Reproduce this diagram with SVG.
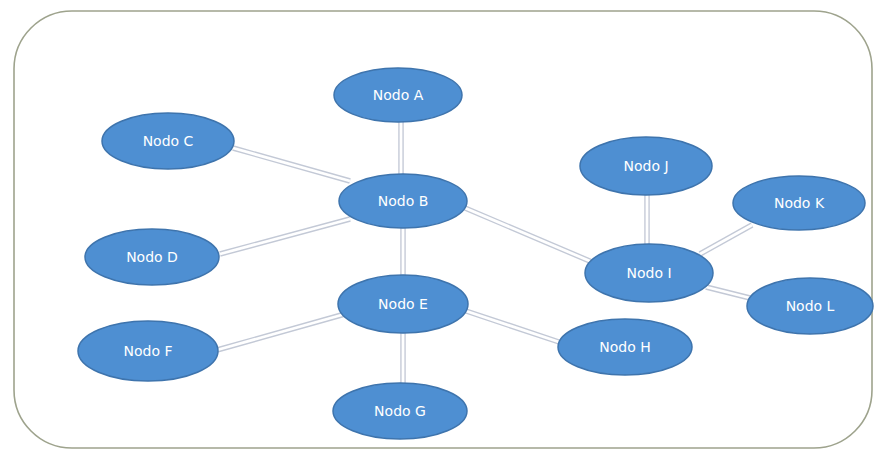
<svg xmlns="http://www.w3.org/2000/svg" width="875" height="450" viewBox="0 0 875 450">
<style>
.n ellipse{fill:#4e8fd2;stroke:#3e74ad;stroke-width:1.5}
.n text{fill:#ffffff;font-family:"DejaVu Sans","Liberation Sans",sans-serif;font-size:14px;text-anchor:middle;dominant-baseline:central}
.e .o{stroke:#c3c9d6;stroke-width:5.5;fill:none}
.e .i{stroke:#ffffff;stroke-width:2.8;fill:none}
</style>
<rect x="0" y="0" width="875" height="450" fill="#ffffff"/>
<rect x="14" y="11" width="858" height="437" rx="58" ry="58" fill="#ffffff" stroke="#9ea38d" stroke-width="1.6"/>
<g id="connectors" class="e">
<g class="o">
<line x1="401" y1="120" x2="401" y2="177"/>
<line x1="233" y1="148" x2="350" y2="181"/>
<line x1="220" y1="254" x2="350" y2="219"/>
<line x1="403" y1="226" x2="403" y2="277"/>
<line x1="465" y1="208" x2="592" y2="262"/>
<line x1="217" y1="350" x2="345" y2="314"/>
<line x1="403" y1="331" x2="403" y2="385"/>
<line x1="466" y1="311" x2="562" y2="343"/>
<line x1="647" y1="193" x2="647" y2="247"/>
<line x1="700" y1="254" x2="752" y2="225"/>
<line x1="706" y1="287" x2="750" y2="298"/>
</g>
<g class="i">
<line x1="401" y1="120" x2="401" y2="177"/>
<line x1="233" y1="148" x2="350" y2="181"/>
<line x1="220" y1="254" x2="350" y2="219"/>
<line x1="403" y1="226" x2="403" y2="277"/>
<line x1="465" y1="208" x2="592" y2="262"/>
<line x1="217" y1="350" x2="345" y2="314"/>
<line x1="403" y1="331" x2="403" y2="385"/>
<line x1="466" y1="311" x2="562" y2="343"/>
<line x1="647" y1="193" x2="647" y2="247"/>
<line x1="700" y1="254" x2="752" y2="225"/>
<line x1="706" y1="287" x2="750" y2="298"/>
</g>
</g>
<g id="nodeA" class="n"><ellipse cx="398" cy="95" rx="64" ry="27"/><text x="398" y="95">Nodo A</text></g>
<g id="nodeB" class="n"><ellipse cx="403" cy="201" rx="64" ry="27"/><text x="403" y="201">Nodo B</text></g>
<g id="nodeC" class="n"><ellipse cx="168" cy="141" rx="66" ry="28"/><text x="168" y="141">Nodo C</text></g>
<g id="nodeD" class="n"><ellipse cx="152" cy="257" rx="67" ry="28"/><text x="152" y="257">Nodo D</text></g>
<g id="nodeE" class="n"><ellipse cx="403" cy="304" rx="65" ry="29"/><text x="403" y="304">Nodo E</text></g>
<g id="nodeF" class="n"><ellipse cx="148" cy="351" rx="70" ry="30"/><text x="148" y="351">Nodo F</text></g>
<g id="nodeG" class="n"><ellipse cx="400" cy="411" rx="67" ry="28"/><text x="400" y="411">Nodo G</text></g>
<g id="nodeH" class="n"><ellipse cx="625" cy="347" rx="67" ry="28"/><text x="625" y="347">Nodo H</text></g>
<g id="nodeI" class="n"><ellipse cx="649" cy="273" rx="64" ry="29"/><text x="649" y="273">Nodo I</text></g>
<g id="nodeJ" class="n"><ellipse cx="646" cy="166" rx="66" ry="29"/><text x="646" y="166">Nodo J</text></g>
<g id="nodeK" class="n"><ellipse cx="799" cy="203" rx="66" ry="27"/><text x="799" y="203">Nodo K</text></g>
<g id="nodeL" class="n"><ellipse cx="810" cy="306" rx="63" ry="28"/><text x="810" y="306">Nodo L</text></g>
</svg>
